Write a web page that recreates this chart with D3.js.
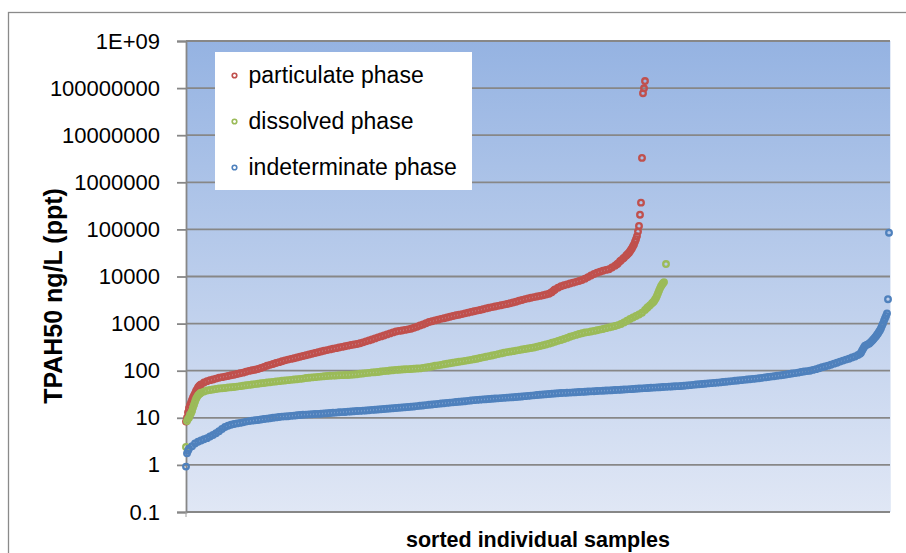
<!DOCTYPE html>
<html>
<head>
<meta charset="utf-8">
<script src="https://cdn.jsdelivr.net/npm/d3@7"></script>
<style>
  html, body { margin: 0; padding: 0; background: #ffffff; }
  svg { display: block; }
</style>
</head>
<body>
<svg id="chart" width="906" height="553"></svg>
<script>
// Sorted TPAH50 concentrations, ng/L (ppt): [sample rank, value]
const particulate = [
  [0,8.3],[1,10],[2,13],[3,16],[4,18.5],[5,21],[6,24],[7,27],[8,30],[9,33],[10,37],[11,40],[12,44],[13,47],[14,49],[15,51],[18,56],[21,60],[24,63],[27,65],[30,68],[33,71],[36,73],[39,75],[42,77],[45,80],[48,82],[51,85],[54,88],[57,91],[60,95],[63,99],[66,102],[69,105],[72,109],[75,114],[78,120],[81,127],[84,133],[87,139],[90,146],[93,152],[96,159],[99,166],[102,172],[105,178],[108,184],[111,191],[114,198],[117,205],[120,213],[123,221],[126,229],[129,238],[132,247],[135,256],[138,265],[141,274],[144,283],[147,292],[150,301],[153,311],[156,320],[159,330],[162,340],[165,350],[168,360],[171,370],[174,382],[177,400],[180,420],[183,440],[186,460],[189,485],[192,510],[195,535],[198,560],[201,590],[204,620],[207,650],[210,680],[213,700],[216,715],[219,735],[222,755],[225,780],[228,815],[231,860],[234,910],[237,960],[240,1020],[243,1080],[246,1120],[249,1170],[252,1210],[255,1260],[258,1300],[261,1350],[264,1400],[267,1450],[270,1500],[273,1540],[276,1590],[279,1650],[282,1710],[285,1770],[288,1830],[291,1890],[294,1950],[297,2020],[300,2100],[303,2170],[306,2240],[309,2310],[312,2380],[315,2450],[318,2530],[321,2610],[324,2700],[327,2800],[330,2920],[333,3050],[336,3180],[339,3310],[342,3430],[345,3550],[348,3650],[351,3750],[354,3870],[357,4000],[360,4150],[363,4300],[365,4550],[366,4700],[368,5100],[369,5300],[372,5800],[375,6200],[378,6500],[381,6800],[384,7100],[387,7400],[390,7700],[393,8000],[396,8400],[399,9000],[402,9700],[405,10500],[408,11300],[411,12000],[414,12600],[417,13200],[420,13800],[423,14300],[426,15500],[429,17000],[431,18300],[432,19000],[434,21000],[435,22000],[437,24000],[438,25000],[440,27500],[441,29000],[442,30500],[443,32000],[444,34500],[445,37000],[446,40000],[447,44000],[448,48000],[449,55000],[450,62000],[451,72000],[452,90000],
  [453,118000],[454,205000],[455,370000],[456,3300000],[457,78000000],[458,99000000],[459,141000000]
];

const dissolved = [
  [0,2.4],[1,8.5],[2,9.5],[3,10],[4,11.5],[5,12.5],[6,14],[7,16.5],[8,19],[9,22],[10,25],[11,27.5],[12,30],[13,31.5],[14,33],[15,34],[18,36],[21,38],[24,39],[27,40],[30,41],[33,42],[36,42.5],[39,43],[42,44],[45,44.5],[48,45],[51,46],[54,47],[57,48],[60,49],[63,50],[66,51],[69,52],[72,53],[75,54],[78,55],[81,56],[84,57],[87,58],[90,59],[93,60],[96,61],[99,62],[102,63],[105,64],[108,65],[111,66],[114,67],[117,68],[120,70],[123,71],[126,72],[129,73],[132,74],[135,75],[138,76],[141,77],[144,78],[147,78.5],[150,79],[153,80],[156,80.5],[159,81],[162,81],[165,82],[168,83],[171,84],[174,86],[177,87],[180,89],[183,90],[186,92],[189,93],[192,94],[195,96],[198,98],[201,99],[204,101],[207,102],[210,104],[213,105],[216,106],[219,107],[222,108],[225,109],[228,110],[231,111],[234,112],[237,115],[240,117],[243,120],[246,123],[249,127],[252,130],[255,133],[258,137],[261,140],[264,144],[267,147],[270,151],[273,155],[276,158],[279,162],[282,166],[285,170],[288,175],[291,180],[294,186],[297,192],[300,198],[303,204],[306,210],[309,217],[312,225],[315,233],[318,241],[321,248],[324,254],[327,260],[330,267],[333,274],[336,281],[339,288],[342,295],[345,303],[348,312],[351,322],[354,334],[357,347],[360,360],[363,375],[366,392],[369,410],[372,430],[375,450],[378,472],[381,497],[384,525],[387,550],[390,575],[393,600],[396,625],[399,645],[402,660],[405,680],[408,700],[411,720],[414,745],[417,770],[420,800],[423,830],[426,860],[429,890],[432,930],[435,980],[438,1060],[441,1150],[444,1250],[447,1350],[450,1450],[453,1560],[456,1700],[459,1950],[461,2150],[462,2250],[464,2450],[466,2700],[467,2850],[468,3000],[469,3250],[470,3500],[471,3900],[472,4400],[473,5000],[474,5600],[475,6200],[476,6700],[477,7200],[478,7600],
  [480,18400]
];

const indeterminate = [
  [0,0.92],[1,1.76],[2,2.0],[3,2.2],[6,2.5],[9,2.85],[12,3.1],[15,3.3],[18,3.5],[21,3.7],[24,4.0],[27,4.3],[30,4.7],[33,5.2],[36,5.8],[39,6.4],[42,6.8],[45,7.1],[48,7.4],[51,7.6],[54,7.8],[57,8.0],[60,8.3],[63,8.5],[66,8.7],[69,8.9],[72,9.0],[75,9.2],[78,9.4],[81,9.6],[84,9.8],[87,10.0],[90,10.2],[93,10.4],[96,10.6],[99,10.7],[102,10.8],[105,11.0],[108,11.1],[111,11.3],[114,11.5],[117,11.6],[120,11.7],[123,11.8],[126,11.9],[129,12.0],[132,12.1],[135,12.2],[138,12.4],[141,12.5],[144,12.6],[147,12.8],[150,12.9],[153,13.1],[156,13.2],[159,13.3],[162,13.5],[165,13.6],[168,13.8],[171,13.9],[174,14.0],[177,14.2],[180,14.3],[183,14.5],[186,14.7],[189,14.8],[192,15.0],[195,15.2],[198,15.4],[201,15.6],[204,15.8],[207,16.0],[210,16.2],[213,16.4],[216,16.6],[219,16.8],[222,17.0],[225,17.2],[228,17.4],[231,17.7],[234,18.0],[237,18.3],[240,18.6],[243,18.9],[246,19.2],[249,19.5],[252,19.8],[255,20.1],[258,20.4],[261,20.7],[264,21.0],[267,21.3],[270,21.6],[273,21.9],[276,22.2],[279,22.5],[282,22.9],[285,23.3],[288,23.7],[291,24.0],[294,24.3],[297,24.6],[300,24.8],[303,25.0],[306,25.3],[309,25.6],[312,25.9],[315,26.2],[318,26.5],[321,26.8],[324,27.1],[327,27.4],[330,27.7],[333,28.0],[336,28.4],[339,28.8],[342,29.2],[345,29.6],[348,30.0],[351,30.4],[354,30.8],[357,31.2],[360,31.6],[363,32.0],[366,32.4],[369,32.8],[372,33.2],[375,33.5],[378,33.8],[381,34.0],[384,34.3],[387,34.6],[390,34.9],[393,35.2],[396,35.5],[399,35.8],[402,36.1],[405,36.4],[408,36.7],[411,37.0],[414,37.3],[417,37.6],[420,37.9],[423,38.2],[426,38.5],[429,38.8],[432,39.1],[435,39.4],[438,39.8],[441,40.2],[444,40.6],[447,41.0],[450,41.4],[453,41.8],[456,42.2],[459,42.6],[462,43.0],[465,43.4],[468,43.8],[471,44.2],[474,44.6],[477,45.0],[480,45.4],[483,45.8],[486,46.2],[489,46.6],[492,47.0],[495,47.4],[498,48.0],[501,48.7],[504,49.4],[507,50.1],[510,50.8],[513,51.5],[516,52.2],[519,53.0],[522,53.7],[525,54.4],[528,55.1],[531,55.8],[534,56.5],[537,57.4],[540,58.3],[543,59.2],[546,60.1],[549,61.0],[552,62.0],[555,63.0],[558,64.0],[561,65.0],[564,66.0],[567,67.0],[570,68.0],[573,69.0],[576,70.5],[579,72.0],[582,73.5],[585,75.0],[588,76.5],[591,78.0],[594,79.5],[597,81.0],[600,83.0],[603,85.0],[606,87],[609,89],[612,91],[615,94],[618,96],[621,98],[624,100],[627,104],[630,108],[633,113],[636,118],[639,123],[642,128],[645,134],[648,141],[651,148],[654,156],[657,164],[660,172],[663,180],[666,190],[669,200],[672,215],[674,228],[675,240],[676,265],[677,290],[678,315],[679,340],[681,355],[683,375],[684,390],[685,410],[686,430],[687,455],[688,480],[689,510],[690,540],[691,580],[692,620],[693,670],[694,720],[695,800],[696,900],[697,1010],[698,1150],[699,1300],[700,1450],[701,1650],
  [702,3300],[703,85000]
];

const seriesNames = ["particulate phase", "dissolved phase", "indeterminate phase"];
const seriesColors = ["#c0504d", "#9bbb59", "#4f81bd"];
const seriesData = [particulate, dissolved, indeterminate];

const yTickValues = [0.1, 1, 10, 100, 1000, 10000, 100000, 1000000, 10000000, 100000000, 1000000000];
const yTickLabels = ["0.1", "1", "10", "100", "1000", "10000", "100000", "1000000", "10000000", "100000000", "1E+09"];
const sampleCount = 703;

const yTitle = "TPAH50 ng/L (ppt)";
const xTitle = "sorted individual samples";

const svg = d3.select("#chart");
const plot = { left: 186, top: 41, right: 890, bottom: 512 };
const FONT = "'Liberation Sans', Arial, sans-serif";

// chart area border
svg.append("rect")
  .attr("x", 8.5).attr("y", 12.5)
  .attr("width", 940).attr("height", 600)
  .attr("fill", "#ffffff")
  .attr("stroke", "#8a8a8a").attr("stroke-width", 1.3);

// plot-area gradient fill
const defs = svg.append("defs");
const grad = defs.append("linearGradient")
  .attr("id", "plotFill").attr("x1", 0).attr("y1", 0).attr("x2", 0).attr("y2", 1);
grad.append("stop").attr("offset", "0%").attr("stop-color", "#95b3e2");
grad.append("stop").attr("offset", "100%").attr("stop-color", "#e0e7f5");

svg.append("rect")
  .attr("x", plot.left).attr("y", plot.top)
  .attr("width", plot.right - plot.left).attr("height", plot.bottom - plot.top)
  .attr("fill", "url(#plotFill)");
svg.append("line")
  .attr("x1", plot.right + 0.5).attr("x2", plot.right + 0.5)
  .attr("y1", plot.top).attr("y2", plot.bottom)
  .attr("stroke", "#e4ebf7").attr("stroke-width", 1);

const x = d3.scaleLinear().domain([0, sampleCount]).range([plot.left, plot.right - 1]);
const y = d3.scaleLog().domain([0.1, 1e9]).range([plot.bottom, plot.top]);

// horizontal gridlines
svg.append("g")
  .selectAll("line")
  .data(yTickValues)
  .join("line")
  .attr("x1", plot.left).attr("x2", plot.right)
  .attr("y1", d => y(d)).attr("y2", d => y(d))
  .attr("stroke", "#878787").attr("stroke-width", 1.8);

// y axis with outside ticks
const yAxis = d3.axisLeft(y)
  .tickValues(yTickValues)
  .tickFormat((d, i) => yTickLabels[i])
  .tickSize(9)
  .tickPadding(17);

const gy = svg.append("g")
  .attr("transform", `translate(${plot.left},0)`)
  .call(yAxis);
gy.select(".domain").attr("stroke", "#878787").attr("stroke-width", 1.8);
gy.selectAll(".tick line").attr("stroke", "#878787").attr("stroke-width", 1.8);
gy.selectAll(".tick text")
  .attr("font-family", FONT).attr("font-size", 22).attr("fill", "#000");

// small x-axis tick at the origin
svg.append("line")
  .attr("x1", plot.left).attr("x2", plot.left)
  .attr("y1", plot.bottom).attr("y2", plot.bottom + 5)
  .attr("stroke", "#a0a0a0").attr("stroke-width", 1);

// data markers (hollow circles)
seriesData.forEach((data, k) => {
  svg.append("g")
    .selectAll("circle")
    .data(data)
    .join("circle")
    .attr("cx", d => x(d[0]))
    .attr("cy", d => y(d[1]))
    .attr("r", 2.8)
    .attr("fill", "none")
    .attr("stroke", seriesColors[k])
    .attr("stroke-width", 2.3);
});

// legend
const legend = svg.append("g");
legend.append("rect")
  .attr("x", 215).attr("y", 52).attr("width", 257).attr("height", 138)
  .attr("fill", "#ffffff");
seriesNames.forEach((name, k) => {
  const cy = 75.5 + k * 46;
  legend.append("circle")
    .attr("cx", 234.5).attr("cy", cy).attr("r", 2.3)
    .attr("fill", "none").attr("stroke", seriesColors[k]).attr("stroke-width", 1.6);
  legend.append("text")
    .attr("x", 248.5).attr("y", cy + 7.5)
    .attr("font-family", FONT).attr("font-size", 23).attr("fill", "#000")
    .text(name);
});

// axis titles
svg.append("text")
  .attr("transform", "translate(61.5,296) rotate(-90)")
  .attr("text-anchor", "middle")
  .attr("font-family", FONT).attr("font-weight", "bold").attr("font-size", 25)
  .attr("fill", "#000")
  .text(yTitle);

svg.append("text")
  .attr("x", (plot.left + plot.right) / 2).attr("y", 547)
  .attr("text-anchor", "middle")
  .attr("font-family", FONT).attr("font-weight", "bold").attr("font-size", 21.5)
  .attr("fill", "#000")
  .text(xTitle);
</script>
</body>
</html>
